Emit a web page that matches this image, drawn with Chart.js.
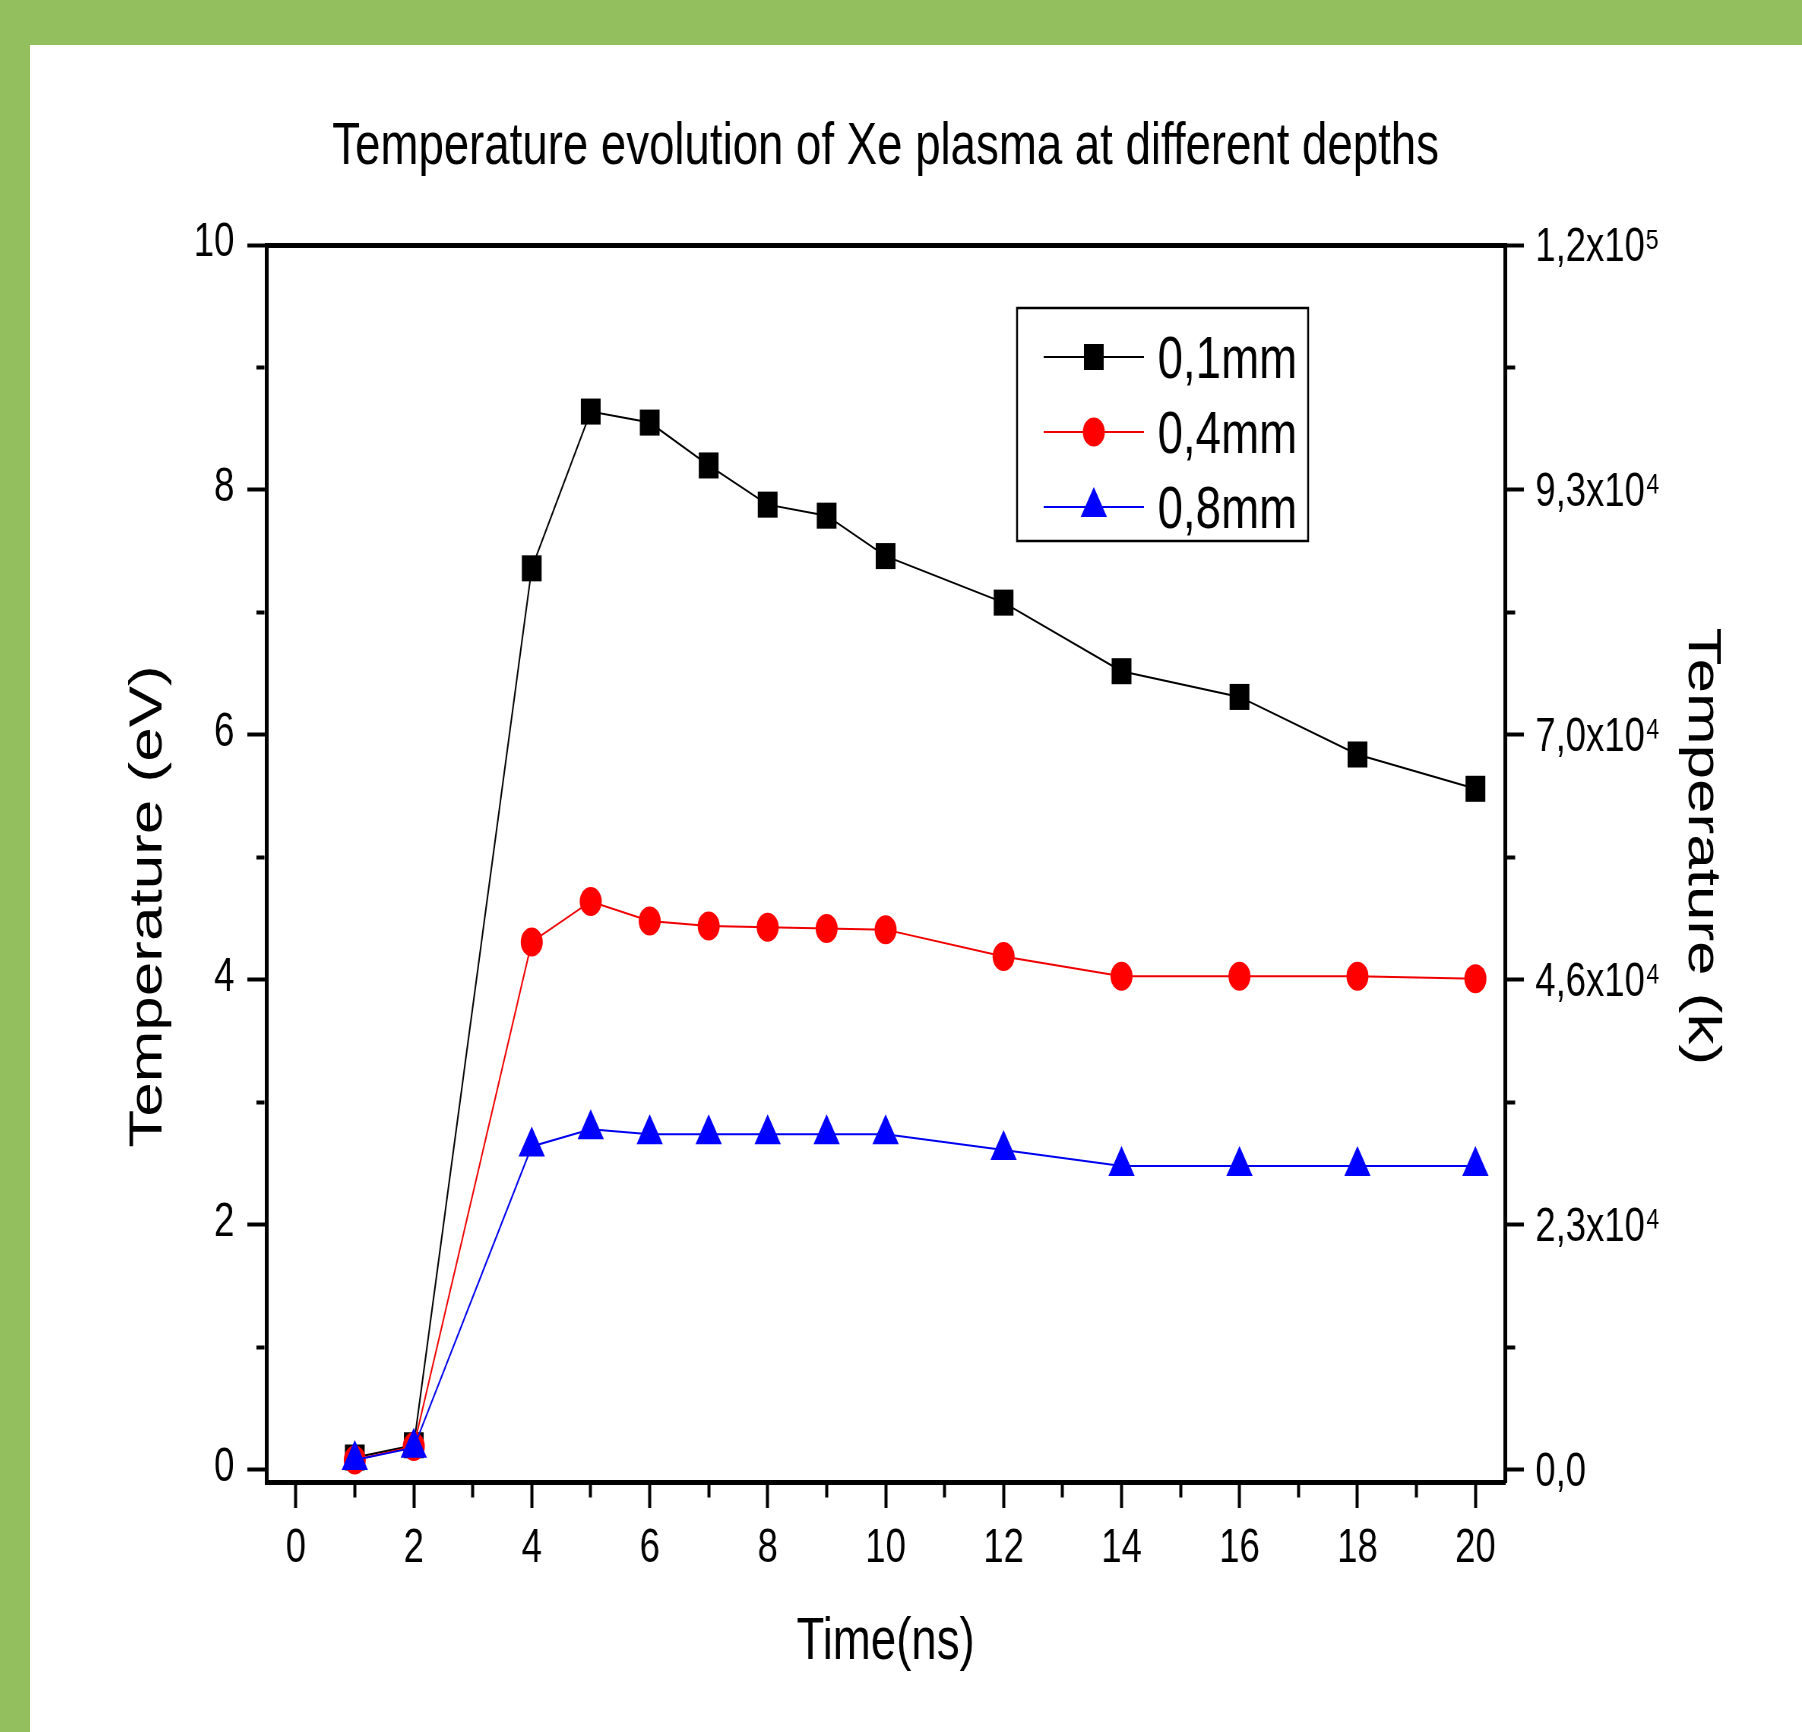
<!DOCTYPE html>
<html>
<head>
<meta charset="utf-8">
<script src="https://cdn.jsdelivr.net/npm/chart.js"></script>
<style>
  html, body { margin: 0; padding: 0; background: #ffffff; overflow: hidden; width: 1802px; height: 1732px; }
  #greenTop { position: absolute; left: 0; top: 0; width: 1802px; height: 45px; background: #94bf5f; }
  #greenLeft { position: absolute; left: 0; top: 0; width: 30px; height: 1732px; background: #94bf5f; }
  #c { position: absolute; left: 30px; top: 45px; }
</style>
</head>
<body>
<div id="greenTop"></div>
<div id="greenLeft"></div>
<canvas id="c" width="2332" height="1687" style="width:1772px;height:1687px;"></canvas>
<script>
// ---- data ----
const chartTitle = 'Temperature evolution of Xe plasma at different depths';
const times = [1, 2, 4, 5, 6, 7, 8, 9, 10, 12, 14, 16, 18, 20];
const temp01mm = [0.10, 0.20, 7.36, 8.64, 8.55, 8.20, 7.88, 7.79, 7.46, 7.08, 6.52, 6.31, 5.84, 5.56];
const temp04mm = [0.08, 0.19, 4.31, 4.64, 4.48, 4.44, 4.43, 4.42, 4.41, 4.19, 4.03, 4.03, 4.03, 4.01];
const temp08mm = [0.08, 0.18, 2.64, 2.78, 2.74, 2.74, 2.74, 2.74, 2.74, 2.61, 2.48, 2.48, 2.48, 2.48];
const seriesLabels = ['0,1mm', '0,4mm', '0,8mm'];
const xMajorTicks = [0, 2, 4, 6, 8, 10, 12, 14, 16, 18, 20];
const xMinorTicks = [1, 3, 5, 7, 9, 11, 13, 15, 17, 19];
const yMajorTicks = [0, 2, 4, 6, 8, 10];
const yMinorTicks = [1, 3, 5, 7, 9];
const yLeftLabels = ['0', '2', '4', '6', '8', '10'];
const yRightLabels = ['0,0', '2,3x10\u2074', '4,6x10\u2074', '7,0x10\u2074', '9,3x10\u2074', '1,2x10\u2075'];
const xTitle = 'Time(ns)';
const yLeftTitle = 'Temperature (eV)';
const yRightTitle = 'Temperature (k)';

// ---- style ----
const FONT = "'Liberation Sans', Arial, sans-serif";
Chart.defaults.color = '#000';
Chart.defaults.font.family = FONT;

const toPoints = (ys) => times.map((t, i) => ({ x: t, y: ys[i] }));
const allX = [...xMajorTicks, ...xMinorTicks].sort((a, b) => a - b);
const allY = [...yMajorTicks, ...yMinorTicks].sort((a, b) => a - b);
// trailing spaces only shift the centred title along its axis
const padEnd = (s, n) => s + ' '.repeat(n);

const legendPlugin = {
  id: 'boxLegend',
  afterDraw(chart, args, opts) {
    const { ctx, chartArea } = chart;
    const L = chartArea.left, T = chartArea.top;
    ctx.save();
    ctx.fillStyle = '#ffffff';
    ctx.fillRect(L + opts.x, T + opts.y, opts.w, opts.h);
    ctx.lineWidth = 2.5;
    ctx.strokeStyle = '#000';
    ctx.strokeRect(L + opts.x, T + opts.y, opts.w, opts.h);
    chart.data.datasets.forEach((ds, i) => {
      const y = T + opts.rows[i];
      ctx.beginPath();
      ctx.lineWidth = ds.borderWidth;
      ctx.strokeStyle = ds.borderColor;
      ctx.moveTo(L + opts.lineX1, y);
      ctx.lineTo(L + opts.lineX2, y);
      ctx.stroke();
      ctx.fillStyle = ds.pointBackgroundColor;
      Chart.helpers.drawPoint(ctx, { pointStyle: ds.pointStyle, radius: ds.pointRadius, rotation: 0, borderWidth: 0 }, L + opts.markerX, y);
      ctx.fillStyle = '#000';
      ctx.font = opts.fontSize + 'px ' + FONT;
      ctx.textAlign = 'left';
      ctx.textBaseline = 'alphabetic';
      ctx.fillText(ds.label, L + opts.textX, y + opts.fontSize * 0.358);
    });
    ctx.restore();
  }
};

const axisBorder = { display: true, color: '#000', width: 5 };

new Chart(document.getElementById('c'), {
  type: 'line',
  data: {
    datasets: [
      { label: seriesLabels[0], data: toPoints(temp01mm), borderColor: '#000000', backgroundColor: '#000000',
        pointBackgroundColor: '#000000', pointStyle: 'rect', pointRadius: 18.4, pointBorderWidth: 0, borderWidth: 2, order: 3 },
      { label: seriesLabels[1], data: toPoints(temp04mm), borderColor: '#f00000', backgroundColor: '#ff0000',
        pointBackgroundColor: '#ff0000', pointStyle: 'circle', pointRadius: 14.5, pointBorderWidth: 0, borderWidth: 2, order: 2 },
      { label: seriesLabels[2], data: toPoints(temp08mm), borderColor: '#0000f0', backgroundColor: '#0000ff',
        pointBackgroundColor: '#0000ff', pointStyle: 'triangle', pointRadius: 20, pointBorderWidth: 0, borderWidth: 2, order: 1 }
    ]
  },
  plugins: [legendPlugin],
  options: {
    responsive: false,
    devicePixelRatio: 1,
    animation: false,
    events: [],
    layout: { padding: 0 },
    elements: { line: { tension: 0 }, point: { hoverRadius: 0 } },
    plugins: {
      legend: { display: false },
      tooltip: { enabled: false },
      title: {
        display: true, text: chartTitle, fullSize: false, color: '#000',
        font: { family: FONT, size: 60, weight: 'normal', lineHeight: 1.2 },
        padding: { top: 66, bottom: 62 }
      },
      boxLegend: { x: 988, y: 63, w: 383, h: 233, lineX1: 1023, lineX2: 1155, markerX: 1089, textX: 1173,
                   rows: [112, 187, 262], fontSize: 60 }
    },
    scales: {
      x: {
        type: 'linear', position: 'bottom', min: -0.5, max: 20.5,
        afterBuildTicks: (s) => { s.ticks = allX.map(v => ({ value: v })); },
        afterFit: (s) => { s.height = 250; },
        ticks: {
          autoSkip: false, maxRotation: 0, color: '#000', padding: 12,
          font: { family: FONT, size: 48 },
          callback: (v) => xMajorTicks.includes(v) ? String(v) : ''
        },
        grid: {
          drawOnChartArea: false, drawTicks: true, tickLength: 26, tickWidth: 4, tickColor: '#000',
          tickBorderDash: (c) => (c.tick && xMinorTicks.includes(c.tick.value)) ? [12.5, 100] : []
        },
        border: axisBorder,
        title: { display: true, text: xTitle, color: '#000', font: { family: FONT, size: 60, lineHeight: 1.2 }, padding: { top: 0, bottom: 54 } }
      },
      xTop: {
        type: 'linear', position: 'top', min: -0.5, max: 20.5, display: true,
        afterFit: (s) => { s.height = 0; },
        ticks: { display: false },
        grid: { drawOnChartArea: false, drawTicks: false },
        border: axisBorder
      },
      y: {
        type: 'linear', position: 'left', min: -0.1, max: 10,
        afterBuildTicks: (s) => { s.ticks = allY.map(v => ({ value: v })); },
        afterFit: (s) => { s.width = 311; },
        ticks: {
          autoSkip: false, color: '#000', padding: 17, labelOffset: -2,
          font: { family: FONT, size: 48 },
          callback: (v) => { const i = yMajorTicks.indexOf(v); return i >= 0 ? yLeftLabels[i] : ''; }
        },
        grid: {
          drawOnChartArea: false, drawTicks: true, tickLength: 25, tickWidth: 4, tickColor: '#000',
          tickBorderDash: (c) => (c.tick && yMinorTicks.includes(c.tick.value)) ? [0, 12, 10.5, 100] : []
        },
        border: axisBorder,
        title: { display: true, text: padEnd(yLeftTitle, 5), color: '#000', font: { family: FONT, size: 62, lineHeight: 1.2 }, padding: { top: 119, bottom: 0 } }
      },
      y2: {
        type: 'linear', position: 'right', min: -0.1, max: 10,
        afterBuildTicks: (s) => { s.ticks = allY.map(v => ({ value: v })); },
        afterFit: (s) => { s.width = 391; },
        ticks: {
          autoSkip: false, color: '#000', padding: 15, labelOffset: 3,
          font: { family: FONT, size: 48 },
          callback: (v) => { const i = yMajorTicks.indexOf(v); return i >= 0 ? yRightLabels[i] : ''; }
        },
        grid: {
          drawOnChartArea: false, drawTicks: true, tickLength: 25, tickWidth: 4, tickColor: '#000',
          tickBorderDash: (c) => (c.tick && yMinorTicks.includes(c.tick.value)) ? [10.5, 100] : []
        },
        border: axisBorder,
        title: { display: true, text: padEnd(yRightTitle, 2), color: '#000', font: { family: FONT, size: 62, lineHeight: 1.2 }, padding: { top: 95, bottom: 0 } }
      }
    }
  }
});
</script>
</body>
</html>
